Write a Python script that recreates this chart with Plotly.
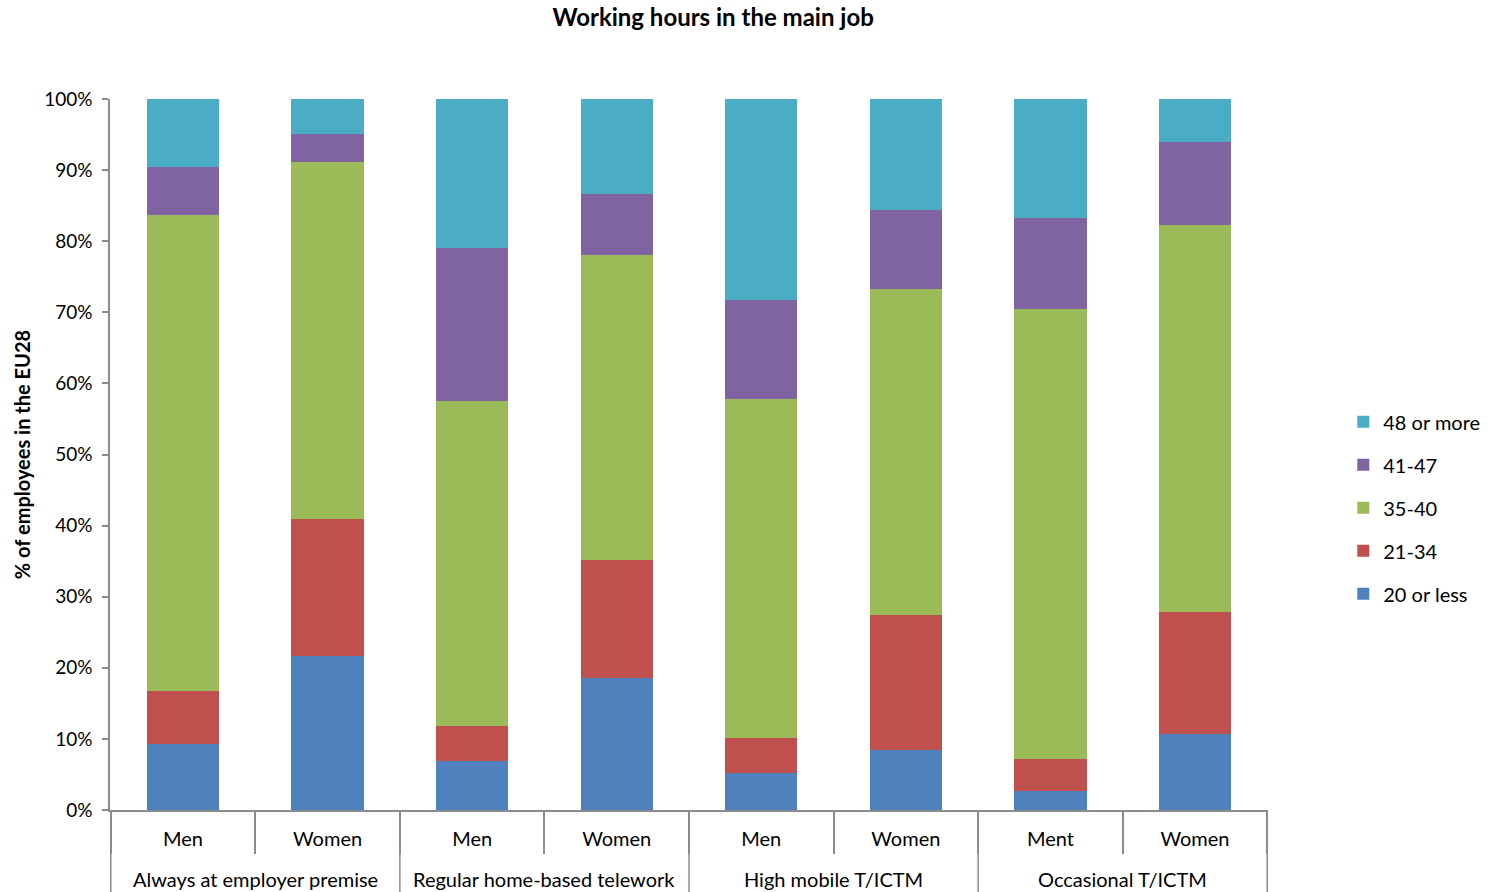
import plotly.graph_objects as go

# Work arrangement groups (two bars each: men, women)
groups = ["Always at employer premise", "Regular home-based telework",
          "High mobile T/ICTM", "Occasional T/ICTM"]
sex_labels = ["Men", "Women", "Men", "Women", "Men", "Women", "Ment", "Women"]
categories = [f"{g} | {s}" for g in groups for s in ("M", "W")]

# Share of employees (%) by weekly working hours
h20_or_less = [9.3, 21.7, 6.9, 18.6, 5.2, 8.4, 2.7, 10.7]
h21_34 = [7.4, 19.2, 4.9, 16.6, 4.9, 19.0, 4.5, 17.1]
h35_40 = [67.0, 50.2, 45.7, 42.9, 47.7, 45.9, 63.3, 54.5]
h41_47 = [6.7, 4.0, 21.5, 8.5, 13.9, 11.1, 12.8, 11.7]
h48_more = [9.6, 4.9, 21.0, 13.4, 28.3, 15.6, 16.7, 6.0]

series = [
    ("20 or less", h20_or_less, "#4F81BD"),
    ("21-34", h21_34, "#C0504D"),
    ("35-40", h35_40, "#9BBB59"),
    ("41-47", h41_47, "#8064A2"),
    ("48 or more", h48_more, "#4BACC6"),
]

FONT = "Lato, 'Open Sans', sans-serif"
AXIS_GREY = "#8C8C8C"

fig = go.Figure()
n_series = len(series)
for i, (name, vals, color) in enumerate(series):
    fig.add_trace(go.Bar(
        x=categories, y=vals, name=name, legendgroup=name,
        legendrank=n_series - i,
        marker=dict(color=color, line=dict(width=0)),
    ))

# Group separators running below the axis, and the group labels
bottom = -82 / 711
for k in range(len(groups) + 1):
    fig.add_shape(type="line", xref="x", yref="paper",
                  x0=2 * k - 0.5, x1=2 * k - 0.5, y0=0, y1=bottom,
                  line=dict(color=AXIS_GREY, width=1.5))
for k, g in enumerate(groups):
    fig.add_annotation(x=2 * k + 0.5, y=-69 / 711, xref="x", yref="paper",
                       text=g, showarrow=False, yanchor="middle",
                       font=dict(size=20))

fig.update_layout(
    barmode="stack",
    bargap=0.5,
    width=1495, height=892,
    margin=dict(l=110, r=227, t=99, b=82, autoexpand=False),
    paper_bgcolor="white", plot_bgcolor="white",
    font=dict(family=FONT, size=20, color="#000000"),
    title=dict(text="<b>Working hours in the main job</b>", x=0.477, xanchor="center",
               y=0.98, yanchor="middle", font=dict(size=24)),
    legend=dict(traceorder="grouped", tracegroupgap=14,
                x=1.065, xanchor="left", y=0.425, yanchor="middle",
                font=dict(size=20), itemwidth=30),
    showlegend=True,
)

fig.update_yaxes(
    range=[0, 100], dtick=10, ticksuffix="%",
    showgrid=False, zeroline=False,
    showline=True, linecolor=AXIS_GREY, linewidth=1.5,
    ticks="outside", ticklen=6, tickcolor=AXIS_GREY, tickwidth=1.5,
    ticklabelstandoff=6,
    tickfont=dict(size=19),
    title=dict(text="<b>% of employees in the EU28</b>", font=dict(size=20), standoff=8),
)

fig.update_xaxes(
    type="category",
    tickvals=categories, ticktext=sex_labels,
    tickson="boundaries", ticks="outside", ticklen=42,
    tickcolor=AXIS_GREY, tickwidth=1.5,
    ticklabelstandoff=10,
    showline=True, linecolor=AXIS_GREY, linewidth=1.5,
    showgrid=False,
    tickfont=dict(size=20),
)

fig.write_html("out.html")
